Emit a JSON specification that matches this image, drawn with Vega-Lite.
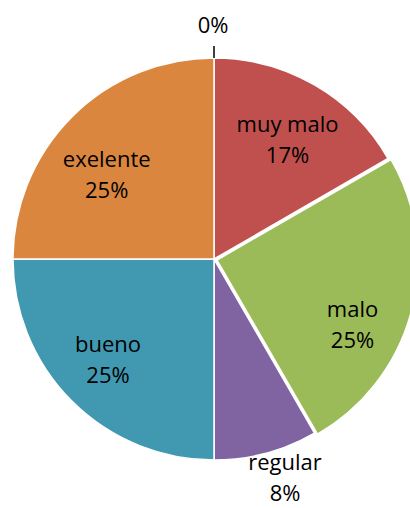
{
  "$schema": "https://vega.github.io/schema/vega-lite/v6.json",
  "width": 428,
  "height": 518,
  "padding": 0,
  "autosize": {"type": "none"},
  "background": "white",
  "config": {"view": {"stroke": null}},
  "data": {
    "values": [
      {"i": 0, "cat": "ninguno", "v": 0, "pct": "0%"},
      {"i": 1, "cat": "muy malo", "v": 2, "pct": "17%"},
      {"i": 2, "cat": "malo", "v": 3, "pct": "25%"},
      {"i": 3, "cat": "regular", "v": 1, "pct": "8%"},
      {"i": 4, "cat": "bueno", "v": 3, "pct": "25%"},
      {"i": 5, "cat": "exelente", "v": 3, "pct": "25%"}
    ]
  },
  "transform": [
    {"stack": "v", "groupby": [], "sort": [{"field": "i", "order": "ascending"}], "as": ["v0", "v1"]},
    {"calculate": "(datum.v0 + datum.v1) / 2", "as": "mid"},
    {"calculate": "datum.cat + '\\n' + datum.pct", "as": "label"}
  ],
  "layer": [
    {
      "transform": [{"filter": "datum.cat != 'malo' && datum.v > 0"}],
      "mark": {"type": "arc", "radius": 201, "stroke": "white", "strokeWidth": 1.5},
      "encoding": {
        "theta": {"field": "v0", "type": "quantitative", "stack": null, "scale": {"domain": [0, 12]}},
        "theta2": {"field": "v1"},
        "color": {
          "field": "cat", "type": "nominal", "legend": null,
          "scale": {
            "domain": ["ninguno", "muy malo", "malo", "regular", "bueno", "exelente"],
            "range": ["#4F81BD", "#C0504D", "#9BBB59", "#8064A2", "#4099B0", "#DA863E"]
          }
        }
      }
    },
    {
      "transform": [{"filter": "datum.cat == 'malo'"}],
      "mark": {"type": "arc", "radius": 201, "stroke": "white", "strokeWidth": 1.5, "xOffset": 3, "yOffset": 1},
      "encoding": {
        "theta": {"field": "v0", "type": "quantitative", "stack": null, "scale": {"domain": [0, 12]}},
        "theta2": {"field": "v1"},
        "color": {"field": "cat", "type": "nominal", "legend": null}
      }
    },
    {
      "transform": [{"filter": "datum.v == 0"}],
      "mark": {"type": "arc", "radius": 213, "radius2": 201, "stroke": "black", "strokeWidth": 1.5, "fill": null},
      "encoding": {
        "theta": {"field": "v0", "type": "quantitative", "stack": null, "scale": {"domain": [0, 12]}},
        "theta2": {"field": "v1"}
      }
    },
    {
      "transform": [{"filter": "datum.cat == 'muy malo'"}],
      "mark": {"type": "text", "radius": 140, "dx": 3.5, "dy": -5.8, "align": "center", "baseline": "alphabetic", "lineBreak": "\n", "lineHeight": 31, "fontSize": 22, "font": "Open Sans", "fill": "black"},
      "encoding": {
        "theta": {"field": "mid", "type": "quantitative", "stack": null, "scale": {"domain": [0, 12]}},
        "text": {"field": "label"}
      }
    },
    {
      "transform": [{"filter": "datum.cat == 'malo'"}],
      "mark": {"type": "text", "radius": 140, "dx": 3.3, "dy": 21.5, "align": "center", "baseline": "alphabetic", "lineBreak": "\n", "lineHeight": 31, "fontSize": 22, "font": "Open Sans", "fill": "black"},
      "encoding": {
        "theta": {"field": "mid", "type": "quantitative", "stack": null, "scale": {"domain": [0, 12]}},
        "text": {"field": "label"}
      }
    },
    {
      "transform": [{"filter": "datum.cat == 'bueno'"}],
      "mark": {"type": "text", "radius": 140, "dx": -7, "dy": -6.3, "align": "center", "baseline": "alphabetic", "lineBreak": "\n", "lineHeight": 31, "fontSize": 22, "font": "Open Sans", "fill": "black"},
      "encoding": {
        "theta": {"field": "mid", "type": "quantitative", "stack": null, "scale": {"domain": [0, 12]}},
        "text": {"field": "label"}
      }
    },
    {
      "transform": [{"filter": "datum.cat == 'exelente'"}],
      "mark": {"type": "text", "radius": 140, "dx": -8.3, "dy": 7, "align": "center", "baseline": "alphabetic", "lineBreak": "\n", "lineHeight": 31, "fontSize": 22, "font": "Open Sans", "fill": "black"},
      "encoding": {
        "theta": {"field": "mid", "type": "quantitative", "stack": null, "scale": {"domain": [0, 12]}},
        "text": {"field": "label"}
      }
    },
    {
      "transform": [{"filter": "datum.cat == 'regular'"}],
      "mark": {"type": "text", "radius": 230, "dx": 11.5, "dy": -11.2, "align": "center", "baseline": "alphabetic", "lineBreak": "\n", "lineHeight": 31, "fontSize": 22, "font": "Open Sans", "fill": "black"},
      "encoding": {
        "theta": {"field": "mid", "type": "quantitative", "stack": null, "scale": {"domain": [0, 12]}},
        "text": {"field": "label"}
      }
    },
    {
      "transform": [{"filter": "datum.v == 0"}],
      "mark": {"type": "text", "radius": 226, "dx": -1, "align": "center", "baseline": "alphabetic", "fontSize": 22, "font": "Open Sans", "fill": "black"},
      "encoding": {
        "theta": {"field": "mid", "type": "quantitative", "stack": null, "scale": {"domain": [0, 12]}},
        "text": {"field": "pct"}
      }
    }
  ]
}
